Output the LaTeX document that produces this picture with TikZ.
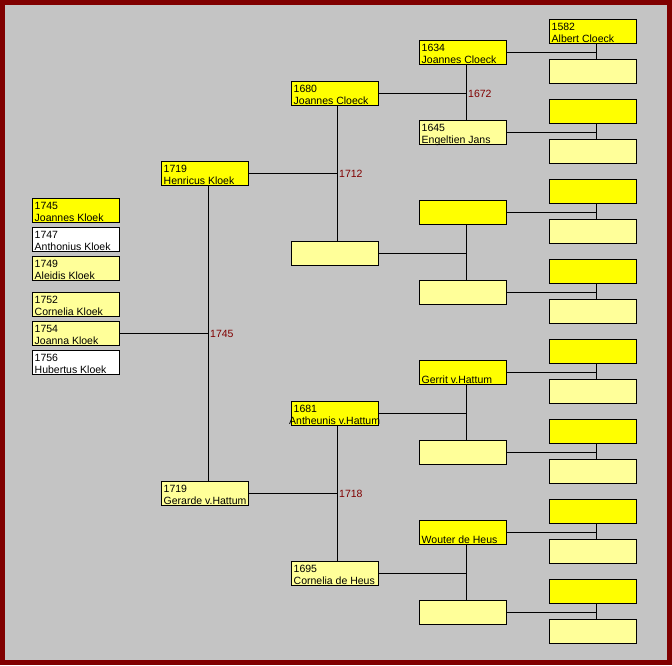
\documentclass[tikz,border=0pt]{standalone}
\usepackage{fontspec}
\setmainfont{Liberation Sans}
\usetikzlibrary{calc}
\definecolor{framered}{RGB}{128,0,0}
\definecolor{bggray}{RGB}{196,196,196}
\definecolor{yel}{RGB}{255,255,0}
\definecolor{lyel}{RGB}{255,255,153}
\definecolor{yearred}{RGB}{128,0,0}
\tikzset{
  pbox/.style={draw=black, line width=1pt, minimum width=87pt, minimum height=24pt, inner sep=0pt, anchor=center},
  ptext/.style={anchor=north west, inner sep=0pt, align=left, font=\fontsize{10.5}{12}\selectfont},
  conn/.style={draw=black, line width=1pt},
  yearlab/.style={anchor=west, inner sep=0pt, text=yearred, font=\fontsize{10.5}{12}\selectfont, xshift=1.5pt},
}
\newcommand\pbx[5]{\node[pbox,fill=#4] (#1) at (#2+44,#3+12.5) {};
  \node[ptext] (#1t) at (#2+2.5,#3+3) {\rule{0pt}{8pt}#5};}
\newcommand\ebx[4]{\node[pbox,fill=#4] (#1) at (#2+44,#3+12.5) {};}
\begin{document}
\begin{tikzpicture}[x=1pt,y=-1pt]
\useasboundingbox (0,0) rectangle (672,665);
\fill[framered] (0,0) rectangle (672,665);
\fill[bggray] (5,5) rectangle (667,660);

% column 0 : children
\pbx{c1}{32}{198}{yel}{1745\\Joannes Kloek}
\pbx{c2}{32}{227}{white}{1747\\Anthonius Kloek}
\pbx{c3}{32}{256}{lyel}{1749\\Aleidis Kloek}
\pbx{c4}{32}{292}{lyel}{1752\\Cornelia Kloek}
\pbx{c5}{32}{321}{lyel}{1754\\Joanna Kloek}
\pbx{c6}{32}{350}{white}{1756\\Hubertus Kloek}

% column 1
\pbx{a0}{161}{161}{yel}{1719\\Henricus Kloek}
\pbx{a1}{161}{481}{lyel}{1719\\Gerarde v.Hattum}

% column 2
\pbx{b0}{291}{81}{yel}{1680\\Joannes Cloeck}
\ebx{b1}{291}{241}{lyel}
\pbx{b2}{291}{401}{yel}{1681\\\hspace*{-4.5pt}Antheunis v.Hattum}
\pbx{b3}{291}{561}{lyel}{1695\\Cornelia de Heus}

% column 3
\pbx{d0}{419}{40}{yel}{1634\\Joannes Cloeck}
\pbx{d1}{419}{120}{lyel}{1645\\Engeltien Jans}
\ebx{d2}{419}{200}{yel}
\ebx{d3}{419}{280}{lyel}
\pbx{d4}{419}{360}{yel}{\\Gerrit v.Hattum}
\ebx{d5}{419}{440}{lyel}
\pbx{d6}{419}{520}{yel}{\\Wouter de Heus}
\ebx{d7}{419}{600}{lyel}

% column 4
\pbx{e0}{549}{19}{yel}{1582\\Albert Cloeck}
\foreach \k in {1,...,15}{
  \pgfmathtruncatemacro\ty{19+40*\k}
  \pgfmathtruncatemacro\odd{mod(\k,2)}
  \ifnum\odd=1 \ebx{e\k}{549}{\ty}{lyel}\else \ebx{e\k}{549}{\ty}{yel}\fi
}

% connectors column 3 -> column 4
\foreach \k in {0,...,7}{
  \pgfmathtruncatemacro\ta{2*\k}
  \pgfmathtruncatemacro\tb{2*\k+1}
  \coordinate (je\k) at ($(e\ta.south)+(3.5,0)$);
  \draw[conn] (je\k) -- (e\tb.north -| je\k);
  \draw[conn] (d\k.east) -- (d\k.east -| je\k);
}

% connectors column 2 -> column 3
\foreach \m in {0,...,3}{
  \pgfmathtruncatemacro\ta{2*\m}
  \pgfmathtruncatemacro\tb{2*\m+1}
  \coordinate (jd\m) at ($(d\ta.south)+(3.5,0)$);
  \draw[conn] (jd\m) -- (d\tb.north -| jd\m);
  \draw[conn] (b\m.east) -- (b\m.east -| jd\m);
}
\node[yearlab] (y1672) at (b0.east -| jd0) {1672};

% connectors column 1 -> column 2
\coordinate (jb0) at ($(b0.south)+(2.5,0)$);
\draw[conn] (jb0) -- (b1.north -| jb0);
\draw[conn] (a0.east) -- (a0.east -| jb0);
\node[yearlab] (y1712) at (a0.east -| jb0) {1712};
\coordinate (jb1) at ($(b2.south)+(2.5,0)$);
\draw[conn] (jb1) -- (b3.north -| jb1);
\draw[conn] (a1.east) -- (a1.east -| jb1);
\node[yearlab] (y1718) at (a1.east -| jb1) {1718};

% connectors children -> column 1
\coordinate (ja) at ($(a0.south)+(3.5,0)$);
\draw[conn] (ja) -- (a1.north -| ja);
\draw[conn] (c5.east) -- (c5.east -| ja);
\node[yearlab] (y1745) at (c5.east -| ja) {1745};
\end{tikzpicture}
\end{document}
